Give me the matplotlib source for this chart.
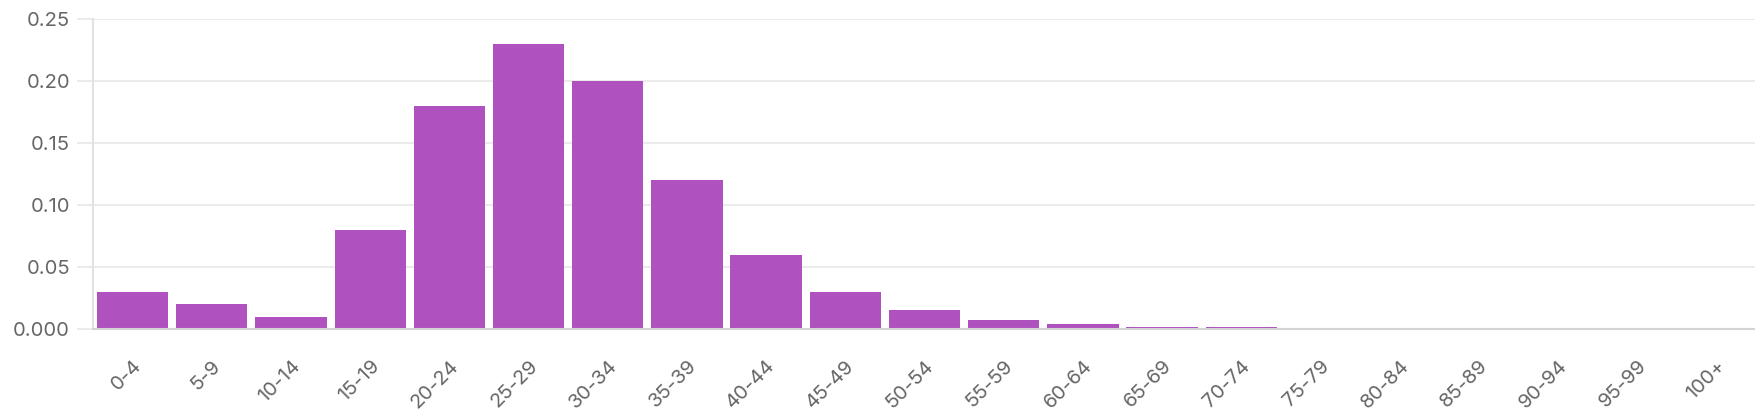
import numpy as np
import matplotlib
matplotlib.use("Agg")
import matplotlib.pyplot as plt

plt.rcParams['font.family'] = ['Inter', 'DejaVu Sans']

# age groups and share of each group
age_groups = ['0-4', '5-9', '10-14', '15-19', '20-24', '25-29', '30-34',
              '35-39', '40-44', '45-49', '50-54', '55-59', '60-64', '65-69',
              '70-74', '75-79', '80-84', '85-89', '90-94', '95-99', '100+']
shares = [0.03, 0.02, 0.01, 0.08, 0.18, 0.23, 0.20,
          0.12, 0.06, 0.03, 0.015, 0.0075, 0.0037, 0.0018,
          0.0014, 0.0008, 0.0, 0.0007, 0.0007, 0.0007, 0.0007]

y_ticks = [0.0, 0.05, 0.10, 0.15, 0.20, 0.25]
y_tick_labels = ['0.000', '0.05', '0.10', '0.15', '0.20', '0.25']

bar_color = '#af52bf'
grid_color = '#ebebeb'
text_color = '#666666'

fig = plt.figure(figsize=(17.56, 4.2), dpi=100)
ax = fig.add_axes([93 / 1756, 1 - 329 / 420, 1 - 93 / 1756, (329 - 19) / 420])

x = np.arange(len(age_groups))
ax.bar(x, shares, width=0.9, color=bar_color, zorder=3)

ax.set_xlim(-0.5, len(age_groups) - 0.5)
ax.set_ylim(0, 0.25)

ax.set_yticks(y_ticks)
ax.set_yticklabels(y_tick_labels)
ax.set_xticks(x)
ax.set_xticklabels(age_groups, rotation=45, ha='right', rotation_mode='anchor')

ax.grid(axis='y', color=grid_color, linewidth=1.5, zorder=0)
ax.tick_params(axis='y', length=11.5, width=1.5, color=grid_color, pad=5,
               labelsize=14.5, labelcolor=text_color)
ax.tick_params(axis='x', length=0, pad=20, labelsize=14.5, labelcolor=text_color)

for side in ['top', 'right']:
    ax.spines[side].set_visible(False)
ax.spines['left'].set_color('#e2e2e2')
ax.spines['left'].set_linewidth(1.5)
ax.spines['bottom'].set_color('#d4d4d4')
ax.spines['bottom'].set_linewidth(1.5)
ax.spines['bottom'].set_zorder(4)

fig.savefig('out.png', dpi=100)
